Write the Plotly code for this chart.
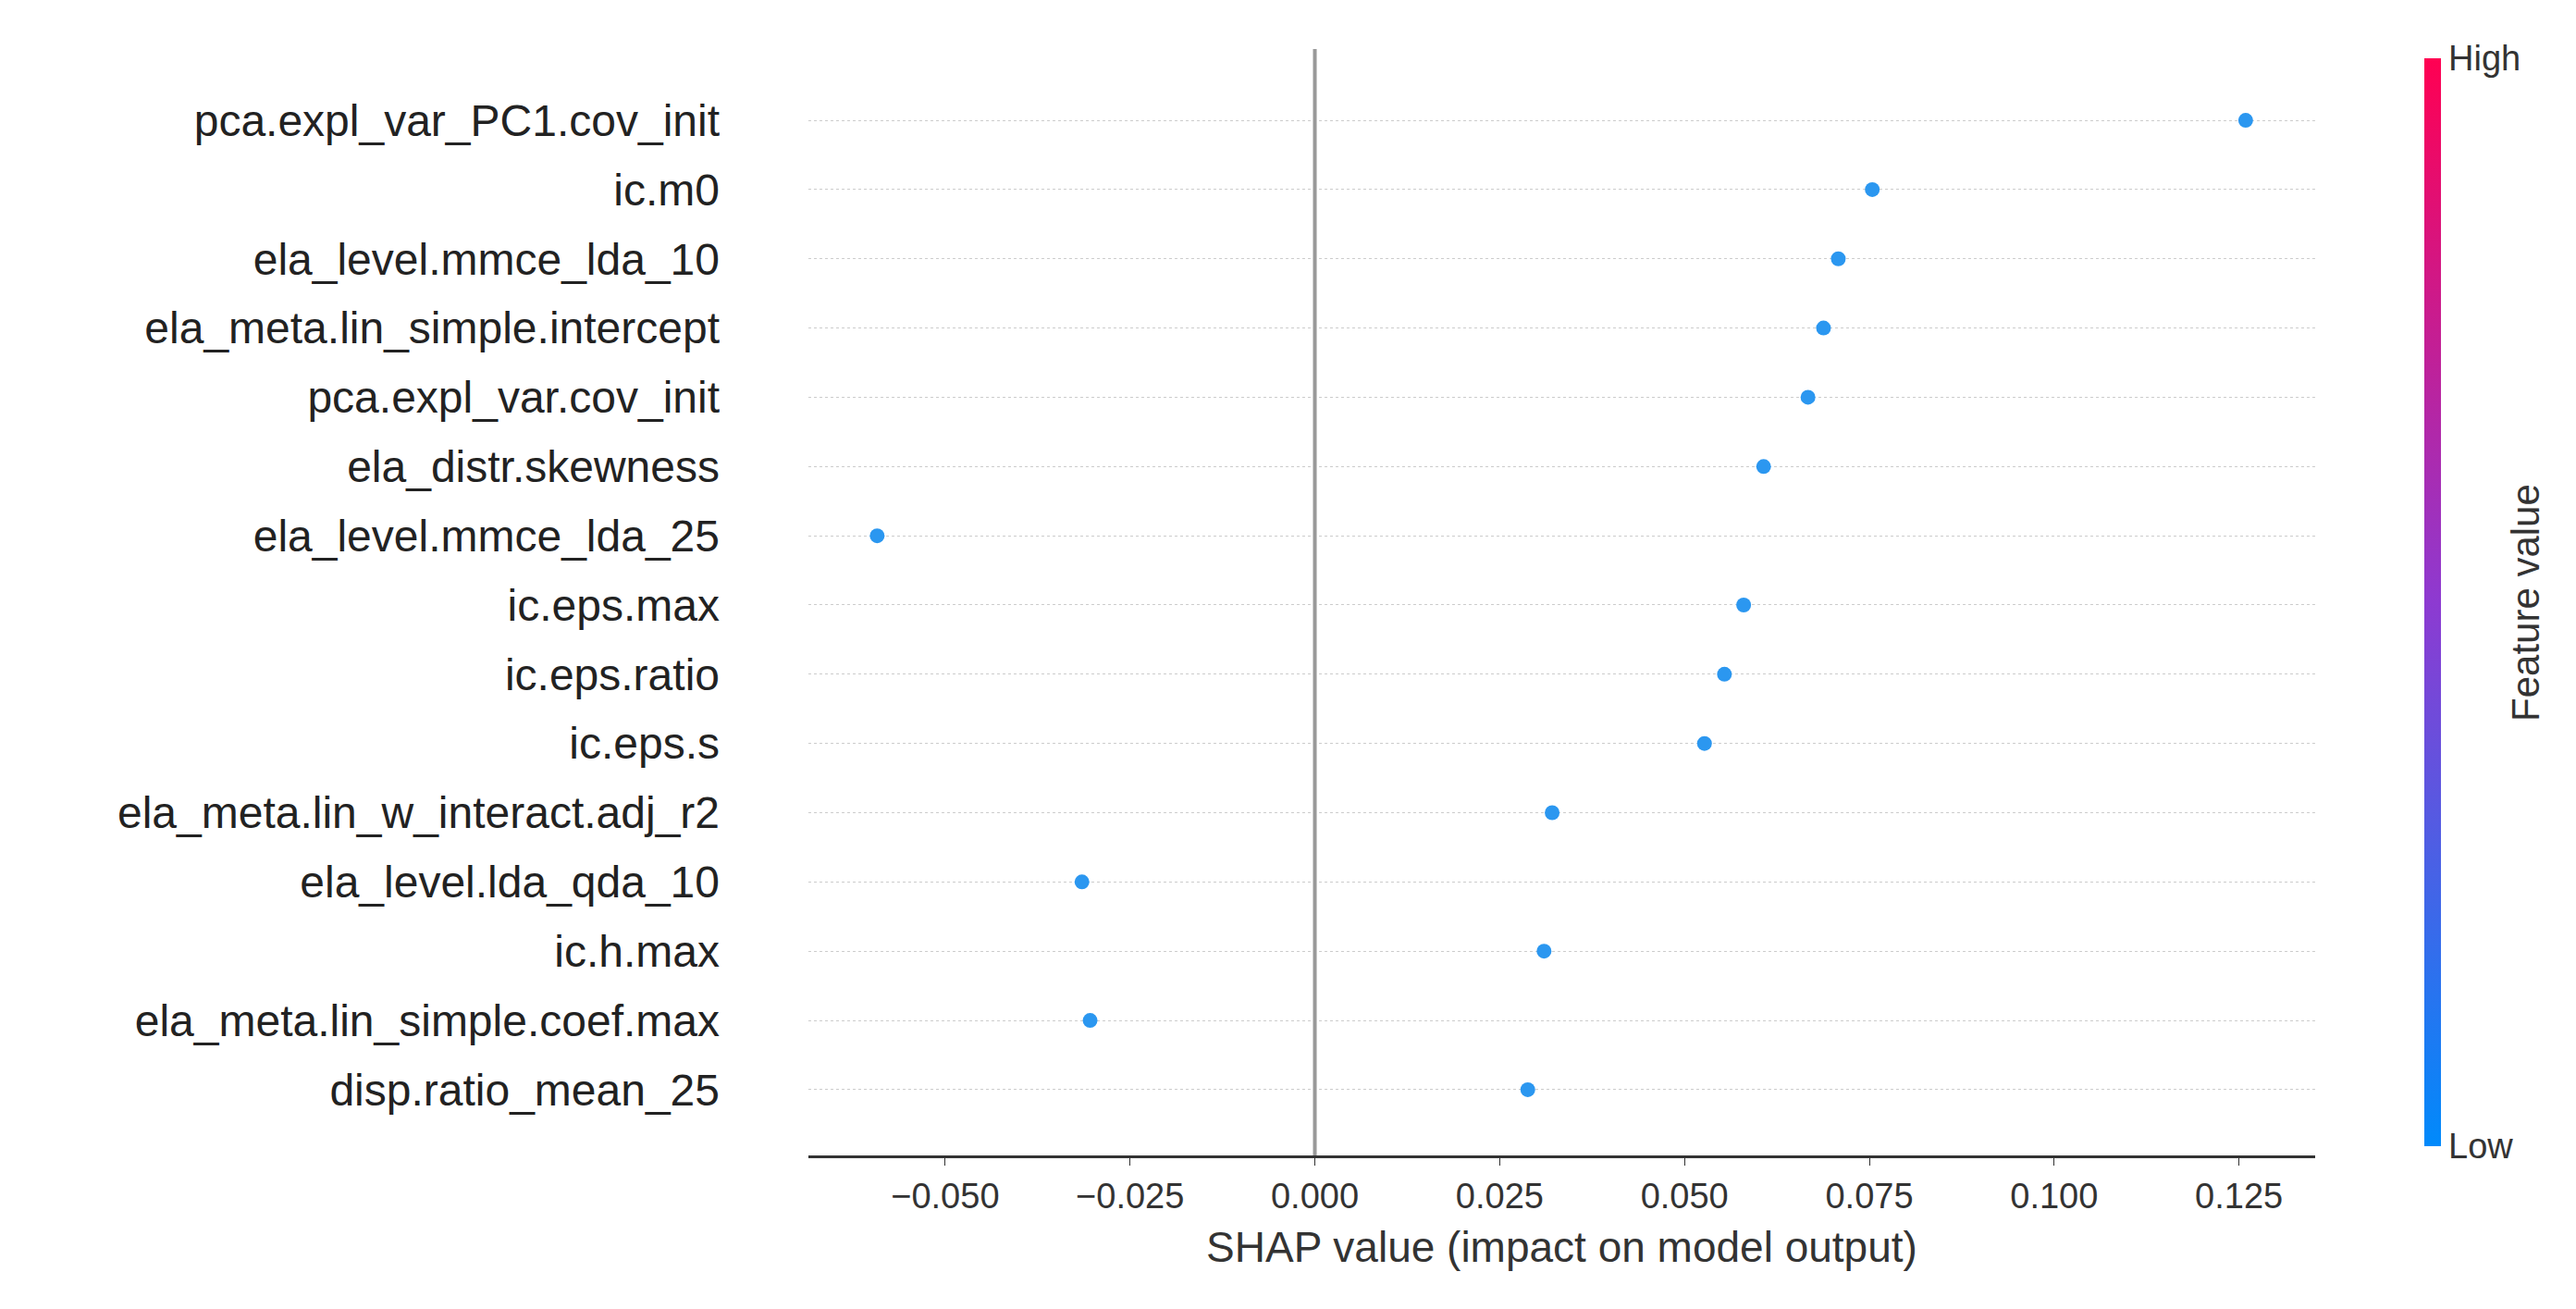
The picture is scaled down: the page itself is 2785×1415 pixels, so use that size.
import plotly.graph_objects as go

features = [
    "pca.expl_var_PC1.cov_init", "ic.m0", "ela_level.mmce_lda_10",
    "ela_meta.lin_simple.intercept", "pca.expl_var.cov_init", "ela_distr.skewness",
    "ela_level.mmce_lda_25", "ic.eps.max", "ic.eps.ratio", "ic.eps.s",
    "ela_meta.lin_w_interact.adj_r2", "ela_level.lda_qda_10", "ic.h.max",
    "ela_meta.lin_simple.coef.max", "disp.ratio_mean_25",
]
shap_values = [0.1259, 0.0754, 0.0708, 0.0688, 0.0667, 0.0607, -0.0592, 0.0580,
               0.0554, 0.0527, 0.0321, -0.0315, 0.0310, -0.0304, 0.0288]
x_ticks = [-0.050, -0.025, 0.000, 0.025, 0.050, 0.075, 0.100, 0.125]

rows = list(range(len(features)))
font = "Liberation Sans"

fig = go.Figure()
fig.add_trace(go.Scatter(
    x=shap_values, y=rows, mode="markers",
    marker=dict(size=16, color="#2b97f0"), showlegend=False,
))
# colorbar-only trace
fig.add_trace(go.Scatter(
    x=[None], y=[None], mode="markers", showlegend=False,
    marker=dict(
        color=[0, 1], cmin=0, cmax=1,
        colorscale=[[0, "#008afb"], [0.5, "#8d3ad1"], [1, "#ff0052"]],
        colorbar=dict(
            x=1.066, xanchor="left", len=1, y=0.5, thickness=18,
            outlinewidth=0, tickvals=[0, 1], ticktext=["Low", "High"],
            ticks="", tickfont=dict(size=38, family=font, color="#333"),
        ),
    ),
))

fig.add_shape(type="line", xref="x", yref="paper", x0=0, x1=0, y0=0, y1=1,
              line=dict(color="#999999", width=4))

fig.update_xaxes(
    range=[-0.0685, 0.1353], tickvals=x_ticks,
    ticktext=[f"{v:.3f}".replace("-", "\u2212") for v in x_ticks],
    showgrid=False, zeroline=False, showline=True, linecolor="#333", linewidth=3,
    ticks="outside", ticklen=8, tickcolor="#333",
    tickfont=dict(size=38, family=font, color="#333"),
    title=dict(text="SHAP value (impact on model output)", standoff=20,
               font=dict(size=46, family=font, color="#333")),
)
fig.update_yaxes(
    range=[14.95, -1.03], tickvals=rows, ticktext=features,
    showgrid=True, gridcolor="#cccccc", griddash="dot", gridwidth=1,
    zeroline=False, showline=False, ticks="", ticklabelstandoff=95,
    tickfont=dict(size=48, family=font, color="#222"),
)
fig.add_annotation(text="Feature value", xref="paper", yref="paper", x=1.155, y=0.5,
                   textangle=-90, showarrow=False,
                   font=dict(size=42, family=font, color="#333"))

fig.update_layout(
    width=2785, height=1415, plot_bgcolor="white", paper_bgcolor="white",
    margin=dict(l=866, r=290, t=45, b=174),
)
fig.write_html("out.html")
